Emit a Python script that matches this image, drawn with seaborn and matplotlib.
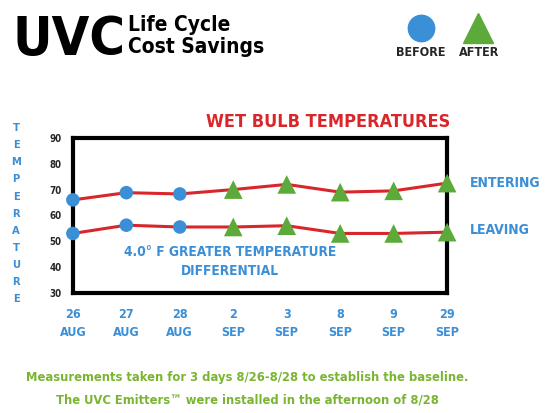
import matplotlib
matplotlib.use("Agg")
import matplotlib.pyplot as plt
import seaborn as sns
import pandas as pd

# data
days = ["26\nAUG", "27\nAUG", "28\nAUG", "2\nSEP", "3\nSEP", "8\nSEP", "9\nSEP", "29\nSEP"]
phase = ["BEFORE", "BEFORE", "BEFORE", "AFTER", "AFTER", "AFTER", "AFTER", "AFTER"]
entering = [66, 68.8, 68.3, 70, 72, 69, 69.5, 72.5]
leaving = [53, 56.2, 55.5, 55.5, 56, 53, 53, 53.5]
y_ticks = [30, 40, 50, 60, 70, 80, 90]

RED = "#d8262b"
BLUE = "#3b8fd6"
GREEN = "#5caa3a"
LGREEN = "#7ab532"

sns.set_style("white")
plt.rcParams["font.family"] = ["DejaVu Sans"]
plt.rcParams["font.stretch"] = "condensed"
plt.rcParams["font.weight"] = "bold"

rows = []
for i, d in enumerate(days):
    rows.append({"pos": i, "series": "ENTERING", "temp": entering[i], "phase": phase[i]})
    rows.append({"pos": i, "series": "LEAVING", "temp": leaving[i], "phase": phase[i]})
df = pd.DataFrame(rows)

fig = plt.figure(figsize=(5.52, 4.13), dpi=100)
ax = fig.add_axes([0.132, 0.291, 0.678, 0.375])

sns.lineplot(data=df, x="pos", y="temp", units="series", estimator=None,
             color=RED, linewidth=2.2, ax=ax, legend=False, clip_on=False)
sns.scatterplot(data=df, x="pos", y="temp", hue="phase", style="phase",
                markers={"BEFORE": "o", "AFTER": "^"},
                palette={"BEFORE": BLUE, "AFTER": GREEN},
                size="phase", sizes={"BEFORE": 95, "AFTER": 180},
                edgecolor="none", ax=ax, legend=False, clip_on=False, zorder=5)

ax.set_xlim(0, len(days) - 1)
ax.set_ylim(30, 90)
ax.set_yticks(y_ticks)
ax.set_xticks(range(len(days)))
ax.set_xticklabels(days, color=BLUE, fontsize=9, fontweight="bold", linespacing=1.5)
ax.set_yticklabels([str(t) for t in y_ticks], fontsize=7, fontweight="bold")
ax.set_xlabel("")
ax.set_ylabel("")
for s in ax.spines.values():
    s.set_linewidth(3)
    s.set_color("black")
ax.tick_params(axis="both", direction="inout", length=10, width=2.5, color="black")
ax.tick_params(axis="x", pad=6)
ax.tick_params(axis="y", pad=3)

# series labels on the right
ax.text(1.06, (entering[-1] - 30) / 60, "ENTERING", transform=ax.transAxes,
        color=BLUE, fontsize=10, fontweight="bold", va="center")
ax.text(1.06, (leaving[-1] + 1 - 30) / 60, "LEAVING", transform=ax.transAxes,
        color=BLUE, fontsize=10, fontweight="bold", va="center")

ax.text(0.42, 0.205, "4.0° F GREATER TEMPERATURE\nDIFFERENTIAL", transform=ax.transAxes,
        color=BLUE, fontsize=9.8, fontweight="bold", ha="center", va="center",
        linespacing=1.45)

fig.text(0.595, 0.705, "WET BULB TEMPERATURES", color=RED, fontsize=13,
         fontweight="bold", ha="center", va="center")

# vertical axis word
word = "TEMPERATURE"
for k, ch in enumerate(word):
    fig.text(0.029, 0.69 - k * 0.0415, ch, color=BLUE, fontsize=8,
             fontweight="bold", ha="center", va="center")

# header
fig.text(0.022, 0.903, "UVC", fontsize=39, fontweight="bold", color="black",
         ha="left", va="center")
fig.text(0.232, 0.913, "Life Cycle\nCost Savings", fontsize=15, fontweight="bold",
         color="black", ha="left", va="center", linespacing=1.15)

# legend markers
fig.lines.append(plt.Line2D([0.762], [0.932], marker="o", markersize=19,
                            color=BLUE, linestyle="none", transform=fig.transFigure))
fig.lines.append(plt.Line2D([0.866], [0.932], marker="^", markersize=21,
                            color=GREEN, linestyle="none", transform=fig.transFigure))
fig.text(0.763, 0.872, "BEFORE", fontsize=9, fontweight="bold", ha="center", va="center")
fig.text(0.868, 0.872, "AFTER", fontsize=9, fontweight="bold", ha="center", va="center")

# footer
fig.text(0.448, 0.085, "Measurements taken for 3 days 8/26-8/28 to establish the baseline.",
         color=LGREEN, fontsize=9.3, fontweight="bold", ha="center", va="center")
fig.text(0.448, 0.032, "The UVC Emitters\u2122 were installed in the afternoon of 8/28",
         color=LGREEN, fontsize=9.3, fontweight="bold", ha="center", va="center")

fig.savefig("out.png", dpi=100)
